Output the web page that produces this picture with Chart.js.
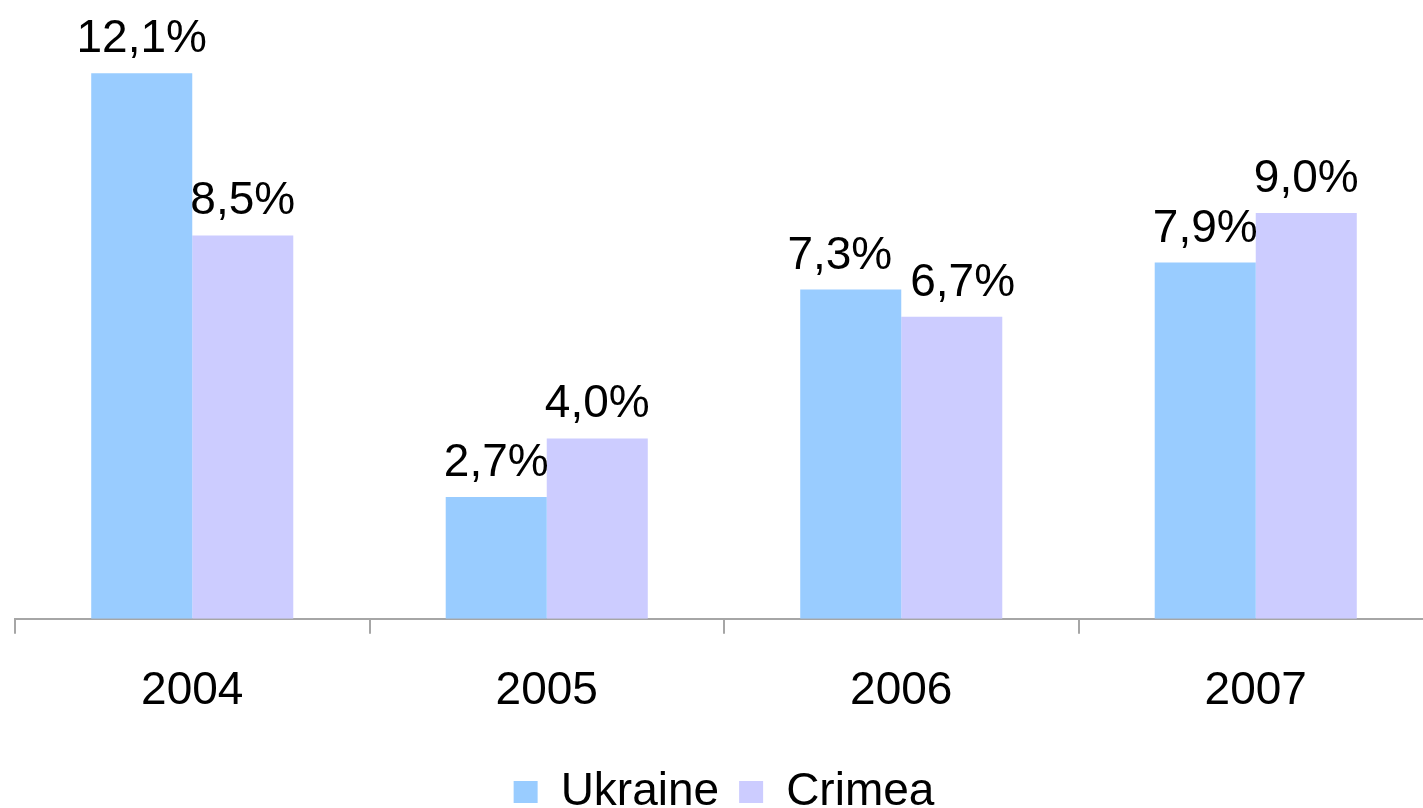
<!DOCTYPE html>
<html>
<head>
<meta charset="utf-8">
<script src="https://cdn.jsdelivr.net/npm/chart.js@4/dist/chart.umd.min.js"></script>
<style>
  html, body { margin: 0; padding: 0; background: #fff; overflow: hidden; }
  #wrap { position: relative; width: 1448px; height: 808px; }
</style>
</head>
<body>
<div id="wrap"><canvas id="chart"></canvas></div>
<script>
// growth rates, Ukraine vs Crimea
const years = ["2004", "2005", "2006", "2007"]
const ukraine = [12.1, 2.7, 7.3, 7.9]
const crimea = [8.5, 4.0, 6.7, 9.0]

const FONT = "'Liberation Sans', Arial, sans-serif"
const AXIS_GRAY = "#A6A6A6"

const fmt = v => v.toFixed(1).replace(".", ",") + "%"

// value labels above each bar, positioned from the bar elements;
// a pair of labels that would collide gets pushed apart a bit
const barLabels = {
  id: "barLabels",
  afterDatasetsDraw(chart) {
    const ctx = chart.ctx
    ctx.save()
    ctx.fillStyle = "#000"
    ctx.font = "46px " + FONT
    ctx.textAlign = "center"
    ctx.textBaseline = "alphabetic"
    const m0 = chart.getDatasetMeta(0).data
    const m1 = chart.getDatasetMeta(1).data
    chart.data.labels.forEach((_, j) => {
      const a = m0[j], b = m1[j]
      const ta = fmt(chart.data.datasets[0].data[j])
      const tb = fmt(chart.data.datasets[1].data[j])
      let xa = a.x, xb = b.x
      if (Math.abs(a.y - b.y) < 45) {
        const need = (ctx.measureText(ta).width + ctx.measureText(tb).width) / 2 + 18
        const gap = xb - xa
        if (gap < need) {
          xa -= (need - gap) / 2
          xb += (need - gap) / 2
        }
      }
      ctx.fillText(ta, xa, a.y - 21)
      ctx.fillText(tb, xb, b.y - 21)
    })
    ctx.restore()
  },
}

new Chart(document.getElementById("chart"), {
  type: "bar",
  data: {
    labels: years,
    datasets: [
      { label: "Ukraine", data: ukraine, backgroundColor: "#99CCFF" },
      { label: "Crimea", data: crimea, backgroundColor: "#CCCCFF" },
    ],
  },
  options: {
    responsive: true,
    maintainAspectRatio: false,
    animation: false,
    categoryPercentage: 0.57,
    barPercentage: 1.0,
    layout: { padding: { top: 10, left: 15, right: 15, bottom: -17 } },
    plugins: {
      tooltip: { enabled: false },
      legend: {
        display: true,
        position: "bottom",
        labels: {
          color: "#000",
          font: { family: FONT, size: 46 },
          boxWidth: 24,
          boxHeight: 22,
          padding: 20,
        },
      },
    },
    scales: {
      x: {
        offset: true,
        grid: {
          display: true,
          offset: true,
          drawOnChartArea: false,
          drawTicks: true,
          tickLength: 15,
          color: AXIS_GRAY,
          lineWidth: 2,
        },
        border: { display: true, color: AXIS_GRAY, width: 2 },
        ticks: {
          color: "#000",
          font: { family: FONT, size: 46 },
          padding: 30,
        },
      },
      y: {
        display: false,
        min: 0,
        max: 13.5,
      },
    },
  },
  plugins: [barLabels],
})
</script>
</body>
</html>
